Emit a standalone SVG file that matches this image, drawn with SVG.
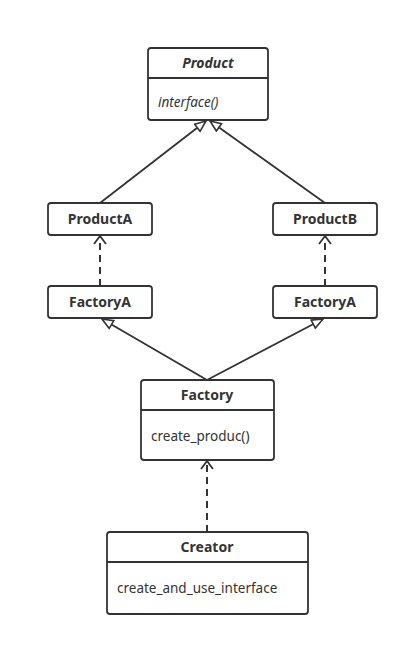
<svg xmlns="http://www.w3.org/2000/svg" width="410" height="646" viewBox="0 0 410 646">
<style>
.box{fill:#fff;stroke:#333;stroke-width:1.8}
.div{stroke:#333;stroke-width:1.8}
.t{font-family:"Noto Sans","Open Sans","DejaVu Sans",sans-serif;font-size:14px;fill:#333}
.b{font-weight:bold;text-anchor:middle}
.m{font-size:13.5px}
.c{fill:none;stroke:#333;stroke-width:1.8}
.d{stroke-dasharray:7,5;stroke-width:2}
</style>
<defs>
<marker id="tri" markerUnits="userSpaceOnUse" markerWidth="14" markerHeight="12" refX="12" refY="5.5" orient="auto">
<path d="M1,1 L12,5.5 L1,10 z" fill="#fff" stroke="#333" stroke-width="1.6"/>
</marker>
<marker id="open" markerUnits="userSpaceOnUse" markerWidth="12" markerHeight="14" refX="9" refY="7" orient="auto">
<path d="M1,1 L9,7 L1,13" fill="none" stroke="#333" stroke-width="1.8"/>
</marker>
</defs>
<rect width="410" height="646" fill="#fff"/>
<g id="connectors">
<line class="c" x1="100" y1="203" x2="206" y2="121" marker-end="url(#tri)"/>
<line class="c" x1="325" y1="203" x2="210" y2="121" marker-end="url(#tri)"/>
<line class="c d" x1="100" y1="286" x2="100" y2="236" marker-end="url(#open)"/>
<line class="c d" x1="325" y1="286" x2="325" y2="236" marker-end="url(#open)"/>
<line class="c" x1="207" y1="380" x2="102" y2="319" marker-end="url(#tri)"/>
<line class="c" x1="207" y1="380" x2="323" y2="319" marker-end="url(#tri)"/>
<line class="c d" x1="207" y1="532" x2="207" y2="461" marker-end="url(#open)"/>
</g>
<g id="product">
<rect class="box" x="148" y="48" width="120" height="72" rx="3"/>
<line class="div" x1="148" y1="78" x2="268" y2="78"/>
<text class="t b" x="208" y="68" font-style="italic">Product</text>
<text class="t m" x="158" y="107" font-style="italic">interface()</text>
</g>
<g id="productA">
<rect class="box" x="48" y="203" width="104" height="32" rx="3"/>
<text class="t b" x="100" y="224">ProductA</text>
</g>
<g id="productB">
<rect class="box" x="273" y="203" width="104" height="32" rx="3"/>
<text class="t b" x="325" y="224">ProductB</text>
</g>
<g id="factoryA1">
<rect class="box" x="48" y="286" width="104" height="32" rx="3"/>
<text class="t b" x="100" y="307">FactoryA</text>
</g>
<g id="factoryA2">
<rect class="box" x="273" y="286" width="104" height="32" rx="3"/>
<text class="t b" x="325" y="307">FactoryA</text>
</g>
<g id="factory">
<rect class="box" x="141" y="380" width="133" height="80" rx="3"/>
<line class="div" x1="141" y1="410" x2="274" y2="410"/>
<text class="t b" x="207" y="400">Factory</text>
<text class="t m" x="151" y="441">create_produc()</text>
</g>
<g id="creator">
<rect class="box" x="107" y="532" width="201" height="82" rx="3"/>
<line class="div" x1="107" y1="562" x2="308" y2="562"/>
<text class="t b" x="207" y="552">Creator</text>
<text class="t m" x="117" y="593">create_and_use_interface</text>
</g>
</svg>
